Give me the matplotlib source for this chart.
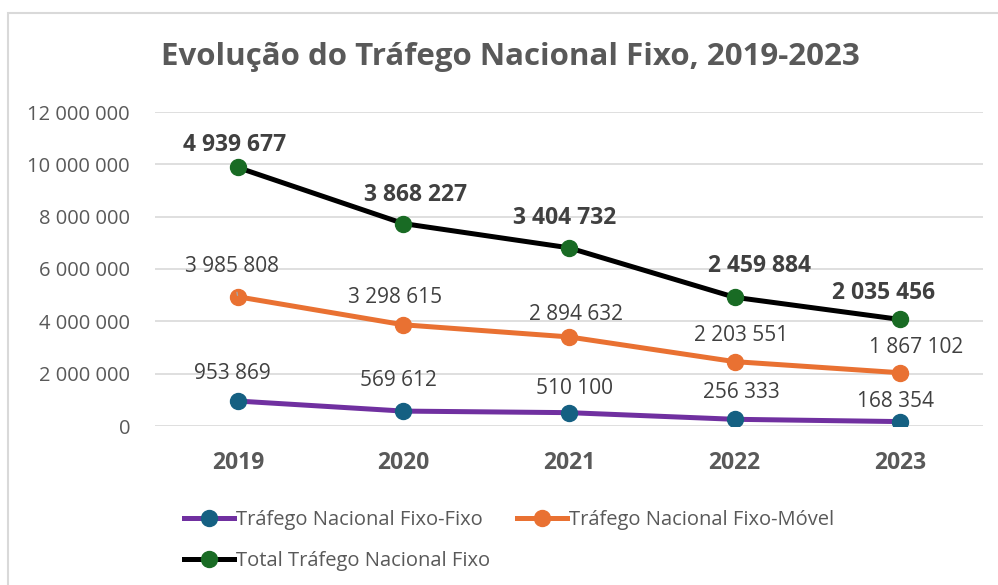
import numpy as np
import matplotlib.pyplot as plt
from matplotlib.patches import Rectangle

plt.rcParams['font.family'] = ['Open Sans', 'DejaVu Sans']

anos = ['2019', '2020', '2021', '2022', '2023']
fixo_fixo = [953869, 569612, 510100, 256333, 168354]
fixo_movel = [3985808, 3298615, 2894632, 2203551, 1867102]
total_fixo = [4939677, 3868227, 3404732, 2459884, 2035456]

# grafico de linhas empilhadas (como no Excel)
y1 = np.array(fixo_fixo)
y2 = y1 + np.array(fixo_movel)
y3 = y2 + np.array(total_fixo)

cinza = '#595959'

fig = plt.figure(figsize=(9.98, 5.85), dpi=100)
fig.patches.append(Rectangle((8 / 998, -0.01), 1.0, 1 - 13 / 585 + 0.01, transform=fig.transFigure,
                             fill=False, edgecolor='#D9D9D9', linewidth=1.5))
ax = fig.add_axes([155 / 998, 1 - 426 / 585, 828 / 998, 314 / 585])

x = np.arange(len(anos))
l1, = ax.plot(x, y1, color='#7030A0', lw=3.6, marker='o', ms=11.5, mfc='#156082', mec='#156082',
              label='Tráfego Nacional Fixo-Fixo', zorder=3)
l2, = ax.plot(x, y2, color='#E97132', lw=3.6, marker='o', ms=11.5, mfc='#E97132', mec='#E97132',
              label='Tráfego Nacional Fixo-Móvel', zorder=3)
l3, = ax.plot(x, y3, color='black', lw=3.6, marker='o', ms=11.5, mfc='#196B24', mec='#196B24',
              label='Total Tráfego Nacional Fixo', zorder=3)

ax.set_xlim(-0.5, 4.5)
ax.set_ylim(0, 12000000)
ax.set_yticks(np.arange(0, 12000001, 2000000))
ax.set_yticklabels([f'{v:,}'.replace(',', ' ') for v in range(0, 12000001, 2000000)])
ax.set_xticks(x)
ax.set_xticklabels(anos, fontweight='bold', fontsize=16.5)
ax.tick_params(axis='y', length=0, labelsize=14.5, labelcolor=cinza, pad=18)
ax.tick_params(axis='x', length=0, labelcolor=cinza, pad=18)
ax.grid(axis='y', color='#D9D9D9', lw=1.2)
ax.set_axisbelow(True)
for s in ax.spines.values():
    s.set_visible(False)

fmt = lambda v: f'{v:,}'.replace(',', ' ')

# deslocamentos dos rotulos em pixels (dx, dy)
off1 = [(-5, 28), (-5, 31), (5, 24), (7, 27), (-5, 20)]
off2 = [(-6, 30), (-8, 27), (7, 22), (7, 26), (16, 25)]
off3 = [(-3, 22), (12, 29), (-4, 30), (25, 31), (-17, 26)]

for i in range(len(anos)):
    ax.annotate(fmt(fixo_fixo[i]), (x[i], y1[i]), xytext=(off1[i][0] * 0.72, off1[i][1] * 0.72),
                textcoords='offset points', ha='center', va='center', fontsize=15, color='#404040')
    if i == 0:
        ax.annotate(fmt(fixo_movel[i]), (x[i], y2[i]), xytext=(off2[i][0] * 0.72, off2[i][1] * 0.72),
                    textcoords='offset points', ha='center', va='center', fontsize=15, color='#404040',
                    arrowprops=dict(arrowstyle='-', color='#A6A6A6', lw=1, shrinkA=9, shrinkB=1))
    else:
        ax.annotate(fmt(fixo_movel[i]), (x[i], y2[i]), xytext=(off2[i][0] * 0.72, off2[i][1] * 0.72),
                    textcoords='offset points', ha='center', va='center', fontsize=15, color='#404040')
    ax.annotate(fmt(total_fixo[i]), (x[i], y3[i]), xytext=(off3[i][0] * 0.72, off3[i][1] * 0.72),
                textcoords='offset points', ha='center', va='center', fontsize=16.5, fontweight='bold',
                color='#404040')

fig.text(0.511, 1 - 57 / 585, 'Evolução do Tráfego Nacional Fixo, 2019-2023', ha='center', va='center',
         fontsize=22.5, fontweight='bold', color=cinza)

leg = fig.legend([l1, l3, l2], [l1.get_label(), l3.get_label(), l2.get_label()], ncol=2,
                 loc='upper left', bbox_to_anchor=(174 / 998, 1 - 500 / 585), frameon=False,
                 fontsize=14.5, handlelength=2.5, handletextpad=0.1, columnspacing=1.3,
                 labelspacing=1.05, borderpad=0)
for t in leg.get_texts():
    t.set_color(cinza)

fig.savefig('out.png', dpi=100)
